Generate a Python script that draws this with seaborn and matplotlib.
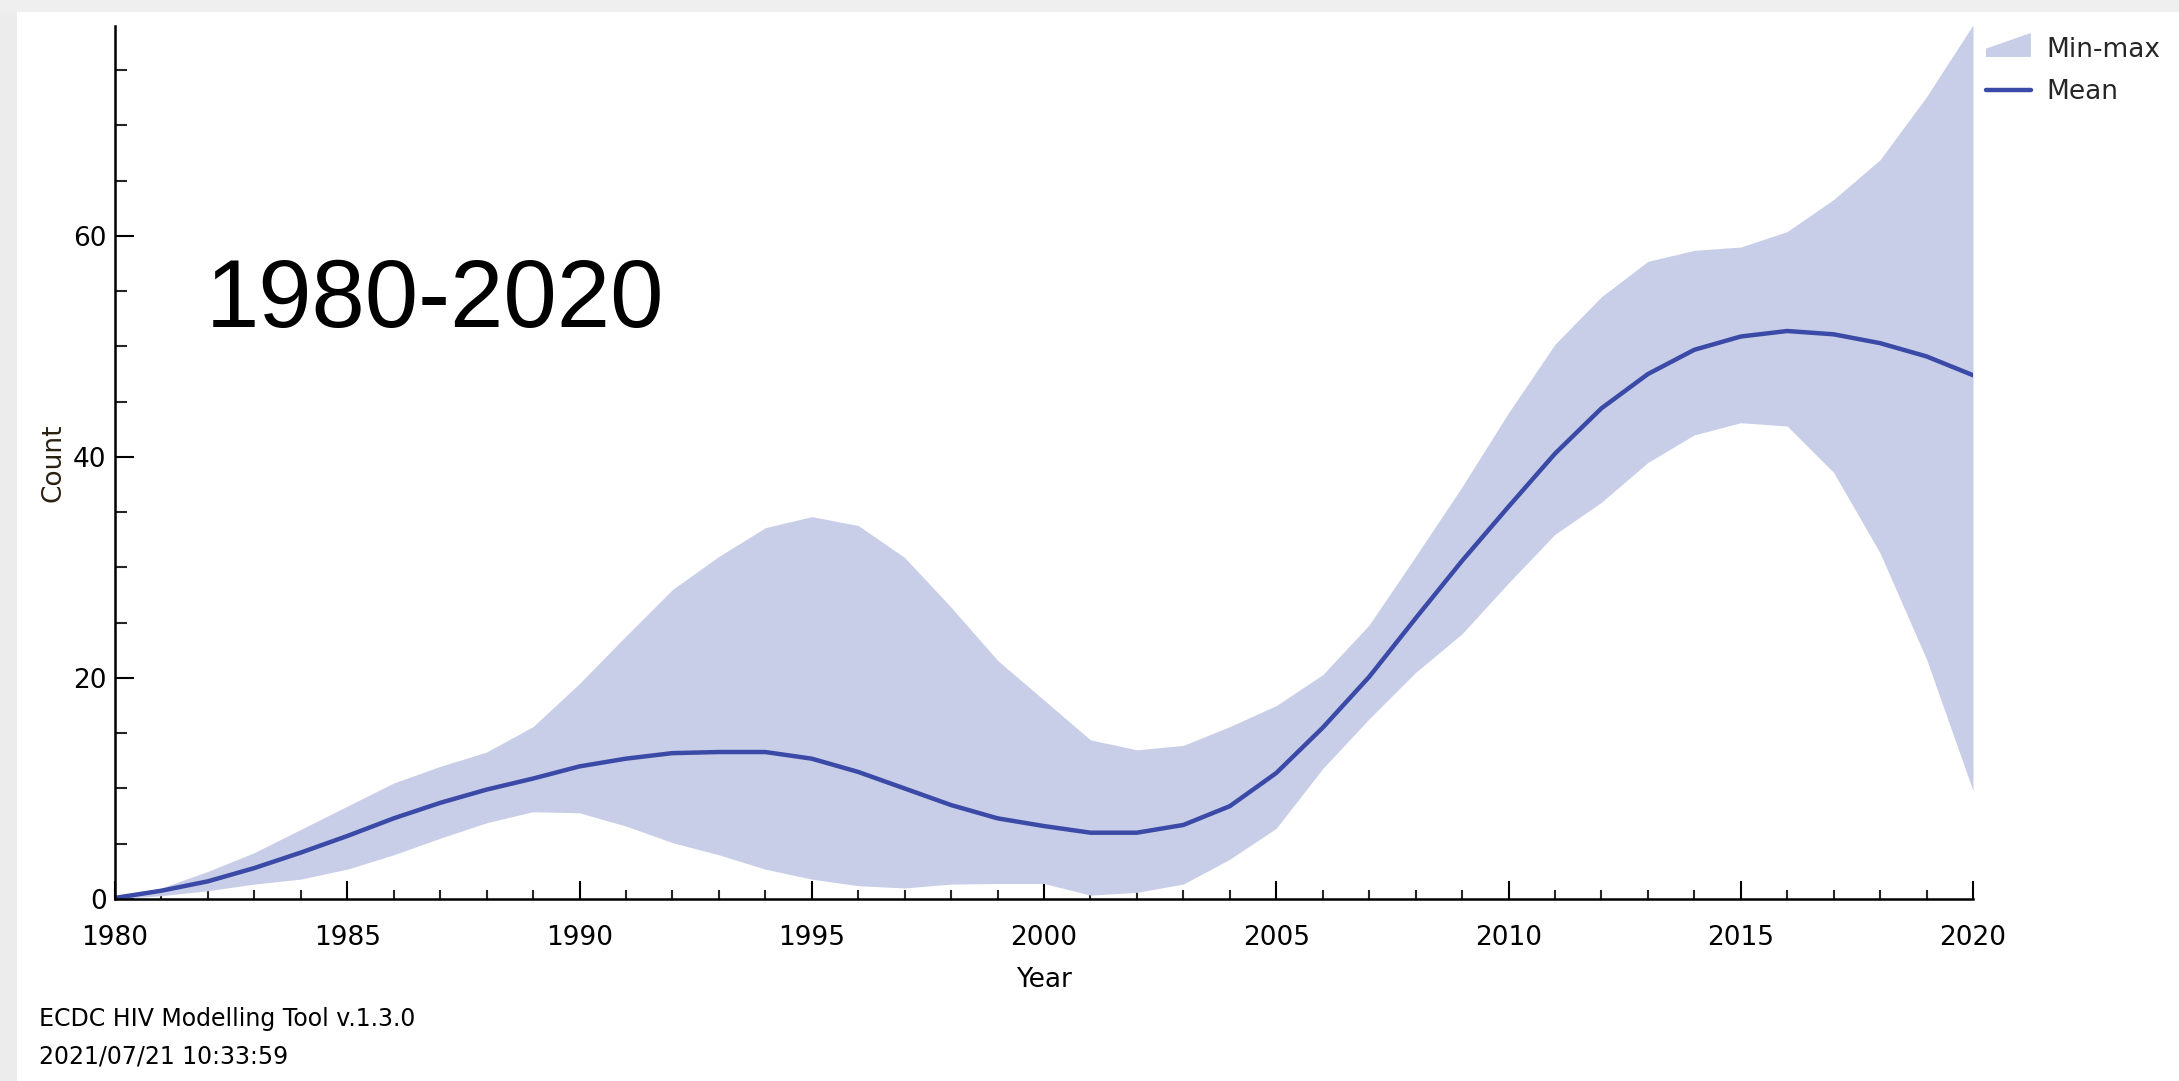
import numpy as np
import pandas as pd
import matplotlib
matplotlib.use("Agg")
import matplotlib.pyplot as plt
from matplotlib.patches import Rectangle, Polygon
from matplotlib.collections import PolyCollection
from matplotlib.legend_handler import HandlerBase
from matplotlib.ticker import MultipleLocator
import seaborn as sns

years = list(range(1980, 2021))
mean_vals = [0.1, 0.75, 1.6, 2.8, 4.2, 5.7, 7.3, 8.7, 9.9, 10.9,
             12.0, 12.7, 13.2, 13.3, 13.3, 12.7, 11.5, 10.0, 8.5, 7.3,
             6.6, 6.0, 6.0, 6.7, 8.4, 11.4, 15.5, 20.1, 25.4, 30.6,
             35.5, 40.3, 44.4, 47.5, 49.7, 50.9, 51.4, 51.1, 50.3, 49.1,
             47.4]
max_vals = [0.2, 1.0, 2.5, 4.2, 6.3, 8.4, 10.5, 12.0, 13.3, 15.6,
            19.5, 23.8, 28.0, 31.0, 33.6, 34.6, 33.8, 30.9, 26.4, 21.6,
            18.0, 14.4, 13.5, 13.9, 15.6, 17.5, 20.3, 24.8, 31.0, 37.3,
            44.0, 50.2, 54.5, 57.7, 58.7, 59.0, 60.4, 63.3, 66.9, 72.6,
            79.1]
min_vals = [0.0, 0.3, 0.75, 1.35, 1.8, 2.7, 4.0, 5.5, 6.9, 7.9,
            7.8, 6.6, 5.1, 4.0, 2.7, 1.8, 1.2, 1.0, 1.35, 1.4,
            1.4, 0.35, 0.6, 1.35, 3.6, 6.4, 11.8, 16.3, 20.5, 24.0,
            28.6, 33.0, 35.9, 39.5, 42.0, 43.1, 42.8, 38.6, 31.3, 21.7,
            9.8]

title_text = "1980-2020"
footer_lines = ["ECDC HIV Modelling Tool v.1.3.0", "2021/07/21 10:33:59"]

df = pd.DataFrame({"Year": years, "Mean": mean_vals, "Min": min_vals, "Max": max_vals})

band_color = "#c8cee8"
line_color = "#3a4aa6"

sns.set_style("ticks")
plt.rcParams["font.family"] = ["DejaVu Sans"]


class SlantAreaHandler(HandlerBase):
    def create_artists(self, legend, orig_handle, xdescent, ydescent, width,
                       height, fontsize, trans):
        x0, y0 = -xdescent, -ydescent
        h = height * 1.3
        pts = [[x0, y0], [x0 + width, y0], [x0 + width, y0 + h], [x0, y0 + h * 0.35]]
        p = Polygon(pts, closed=True, facecolor=band_color, edgecolor="none",
                    transform=trans)
        return [p]


W, H, DPI = 2179, 1081, 100
fig = plt.figure(figsize=(W / DPI, H / DPI), dpi=DPI, facecolor="white")

# window shadow edges
fig.patches.append(Rectangle((0, 0), 17 / W, 1, transform=fig.transFigure,
                             facecolor="#ececec", edgecolor="none", zorder=0))
fig.patches.append(Rectangle((0, 1 - 12 / H), 1, 12 / H, transform=fig.transFigure,
                             facecolor="#efefef", edgecolor="none", zorder=0))

left, right, bottom, top = 115 / W, 1973 / W, 1 - 899 / H, 1 - 26 / H
ax = fig.add_axes([left, bottom, right - left, top - bottom])
ax.set_facecolor("white")

ax.fill_between(df["Year"], df["Min"], df["Max"], color=band_color, linewidth=0,
                label="Min-max", zorder=1)
sns.lineplot(data=df, x="Year", y="Mean", ax=ax, color=line_color, linewidth=3.2,
             label="Mean", zorder=2)

ax.set_xlim(1980, 2020)
ax.set_ylim(0, 79)
ax.xaxis.set_major_locator(MultipleLocator(5))
ax.xaxis.set_minor_locator(MultipleLocator(1))
ax.yaxis.set_major_locator(MultipleLocator(20))
ax.yaxis.set_minor_locator(MultipleLocator(5))

for s in ["top", "right"]:
    ax.spines[s].set_visible(False)
for s in ["left", "bottom"]:
    ax.spines[s].set_linewidth(1.8)
    ax.spines[s].set_color("black")

ax.tick_params(axis="x", which="major", direction="in", length=13, width=1.5,
               labelsize=19, pad=19, colors="black")
ax.tick_params(axis="x", which="minor", direction="in", length=6.5, width=1.5)
ax.tick_params(axis="y", which="major", direction="in", length=14, width=1.5,
               labelsize=19, pad=6, colors="black")
ax.tick_params(axis="y", which="minor", direction="in", length=8.5, width=1.5)

ax.set_xlabel("Year", fontsize=19, color="black")
ax.set_ylabel("Count", fontsize=19, color="#2a2010")
ax.xaxis.set_label_coords(0.5, -0.078)
ax.yaxis.set_label_coords(-0.026, 0.5)

if ax.legend_:
    ax.legend_.remove()
handles, labels = ax.get_legend_handles_labels()
fig.legend(handles, labels, loc="upper left", bbox_to_anchor=(1986 / W, 1 - 37 / H),
           frameon=False, fontsize=19, borderpad=0, borderaxespad=0,
           handlelength=1.7, handletextpad=0.6, labelspacing=0.6,
           handler_map={PolyCollection: SlantAreaHandler()})

fig.text(206 / W, 1 - 327 / H, title_text, fontsize=69, family=["Liberation Sans"],
         ha="left", va="baseline", color="black")

fig.text(39 / W, 1 - 1026 / H, footer_lines[0], fontsize=17, ha="left",
         va="baseline", color="black")
fig.text(39 / W, 1 - 1064 / H, footer_lines[1], fontsize=17, ha="left",
         va="baseline", color="black")

fig.savefig("out.png", dpi=DPI, facecolor="white")
